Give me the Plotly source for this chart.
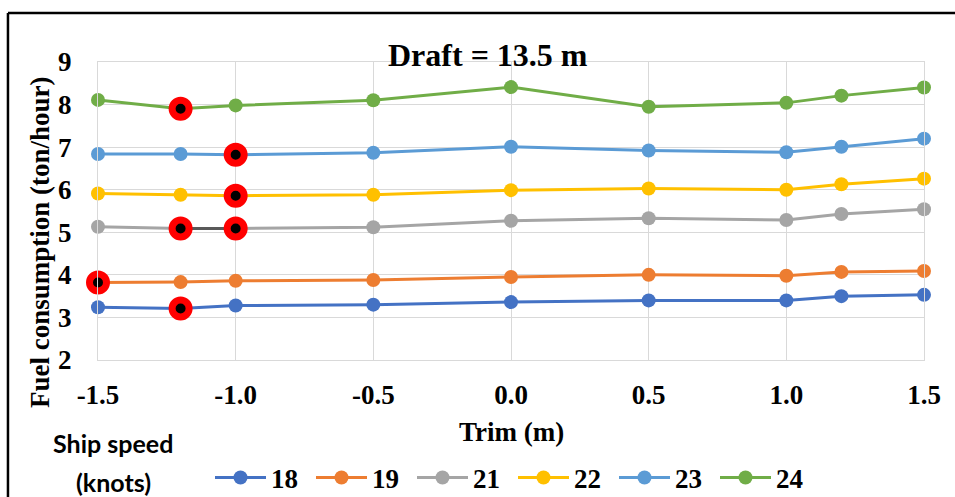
import plotly.graph_objects as go

# Trim values (m) and hourly fuel consumption (ton/hour) per ship speed (knots)
trim = [-1.5, -1.2, -1.0, -0.5, 0.0, 0.5, 1.0, 1.2, 1.5]
speeds = ["18", "19", "21", "22", "23", "24"]
fc_18 = [3.24, 3.21, 3.28, 3.30, 3.36, 3.40, 3.40, 3.50, 3.53]
fc_19 = [3.82, 3.83, 3.86, 3.88, 3.95, 4.00, 3.98, 4.07, 4.09]
fc_21 = [5.13, 5.09, 5.09, 5.12, 5.27, 5.33, 5.29, 5.43, 5.54]
fc_22 = [5.91, 5.88, 5.86, 5.88, 5.99, 6.03, 6.00, 6.13, 6.26]
fc_23 = [6.84, 6.84, 6.82, 6.87, 7.01, 6.92, 6.88, 7.01, 7.20]
fc_24 = [8.11, 7.90, 7.98, 8.10, 8.41, 7.95, 8.04, 8.21, 8.40]
series = [fc_18, fc_19, fc_21, fc_22, fc_23, fc_24]
colors = ["#4472C4", "#ED7D31", "#A5A5A5", "#FFC000", "#5B9BD5", "#70AD47"]

# Trim values giving the lowest consumption for each speed
optimal_trim = {"18": [-1.2], "19": [-1.5], "21": [-1.2, -1.0],
                "22": [-1.0], "23": [-1.0], "24": [-1.2]}

x_ticks = [-1.5, -1.0, -0.5, 0.0, 0.5, 1.0, 1.5]
x_tick_text = ["-1.5", "-1.0", "-0.5", "0.0", "0.5", "1.0", "1.5"]
y_ticks = [2, 3, 4, 5, 6, 7, 8, 9]

SERIF = "Liberation Serif, Times New Roman, serif"
SANS = "Lato, Calibri, sans-serif"
GRID = "#D9D9D9"

fig = go.Figure()

for name, vals, col in zip(speeds, series, colors):
    fig.add_trace(go.Scatter(
        x=trim, y=vals, name=name, mode="lines+markers",
        line=dict(color=col, width=3),
        marker=dict(color=col, size=14),
        cliponaxis=False,
    ))

# darker segment joining the two optimal points of the 21-knot curve
seg_x = optimal_trim["21"]
seg_y = [fc_21[trim.index(t)] for t in seg_x]
fig.add_trace(go.Scatter(
    x=seg_x, y=seg_y, mode="lines", showlegend=False, hoverinfo="skip",
    line=dict(color="#595959", width=3), cliponaxis=False,
))

# highlighted optimum points
hx, hy = [], []
for name, vals in zip(speeds, series):
    for t in optimal_trim[name]:
        hx.append(t)
        hy.append(vals[trim.index(t)])
fig.add_trace(go.Scatter(
    x=hx, y=hy, mode="markers", showlegend=False,
    marker=dict(color="black", size=17, line=dict(color="#FF0000", width=7)),
    cliponaxis=False,
))

fig.update_xaxes(
    range=[-1.5, 1.5], tickvals=x_ticks, ticktext=x_tick_text,
    showgrid=True, gridcolor=GRID, gridwidth=1,
    showline=True, linecolor=GRID, linewidth=1, mirror=True,
    zeroline=False, ticks="", ticklabelstandoff=11,
    tickfont=dict(family=SERIF, size=27, color="black", weight="bold"),
)
fig.update_yaxes(
    range=[2, 9], tickvals=y_ticks,
    showgrid=True, gridcolor=GRID, gridwidth=1,
    showline=True, linecolor=GRID, linewidth=1, mirror=True,
    zeroline=False, ticks="", ticklabelstandoff=20,
    tickfont=dict(family=SERIF, size=27, color="black", weight="bold"),
)

annotations = [
    dict(text="<b>Draft = 13.5 m</b>", x=0.4716, y=1.0235, xref="paper", yref="paper",
         xanchor="center", yanchor="middle", showarrow=False,
         font=dict(family=SERIF, size=32, color="black")),
    dict(text="<b>Fuel consumption (ton/hour)</b>", x=-0.0702, y=0.396,
         xref="paper", yref="paper", xanchor="center", yanchor="middle",
         textangle=-90, showarrow=False,
         font=dict(family=SERIF, size=27, color="black")),
    dict(text="<b>Trim (m)</b>", x=0.501, y=-0.2416, xref="paper", yref="paper",
         xanchor="center", yanchor="middle", showarrow=False,
         font=dict(family=SERIF, size=27, color="black")),
    dict(text="<b>Ship speed</b>", x=0.0182, y=-0.2785, xref="paper", yref="paper",
         xanchor="center", yanchor="middle", showarrow=False,
         font=dict(family=SANS, size=25, color="black")),
    dict(text="<b>(knots)</b>", x=0.0182, y=-0.4094, xref="paper", yref="paper",
         xanchor="center", yanchor="middle", showarrow=False,
         font=dict(family=SANS, size=25, color="black")),
]

# chart frame (top and left edges)
shapes = [
    dict(type="line", xref="paper", yref="paper", x0=-0.109, x1=1.06,
         y0=1.1644, y1=1.1644, line=dict(color="black", width=2.5)),
    dict(type="line", xref="paper", yref="paper", x0=-0.109, x1=-0.109,
         y0=1.1644, y1=-0.47, line=dict(color="black", width=2.5)),
]

fig.update_layout(
    width=955, height=497,
    margin=dict(l=98, r=31, t=62, b=137),
    paper_bgcolor="white", plot_bgcolor="white",
    showlegend=True,
    legend=dict(
        orientation="h", xref="container", yref="container",
        x=210 / 955, y=(497 - 478) / 497, xanchor="left", yanchor="middle",
        font=dict(family=SERIF, size=27, color="black", weight="bold"),
        itemwidth=51, entrywidth=35, entrywidthmode="pixels",
        bgcolor="rgba(0,0,0,0)", borderwidth=0,
        itemclick=False, itemdoubleclick=False,
    ),
    annotations=annotations,
    shapes=shapes,
    hovermode=False,
)

fig.write_html("out.html")
